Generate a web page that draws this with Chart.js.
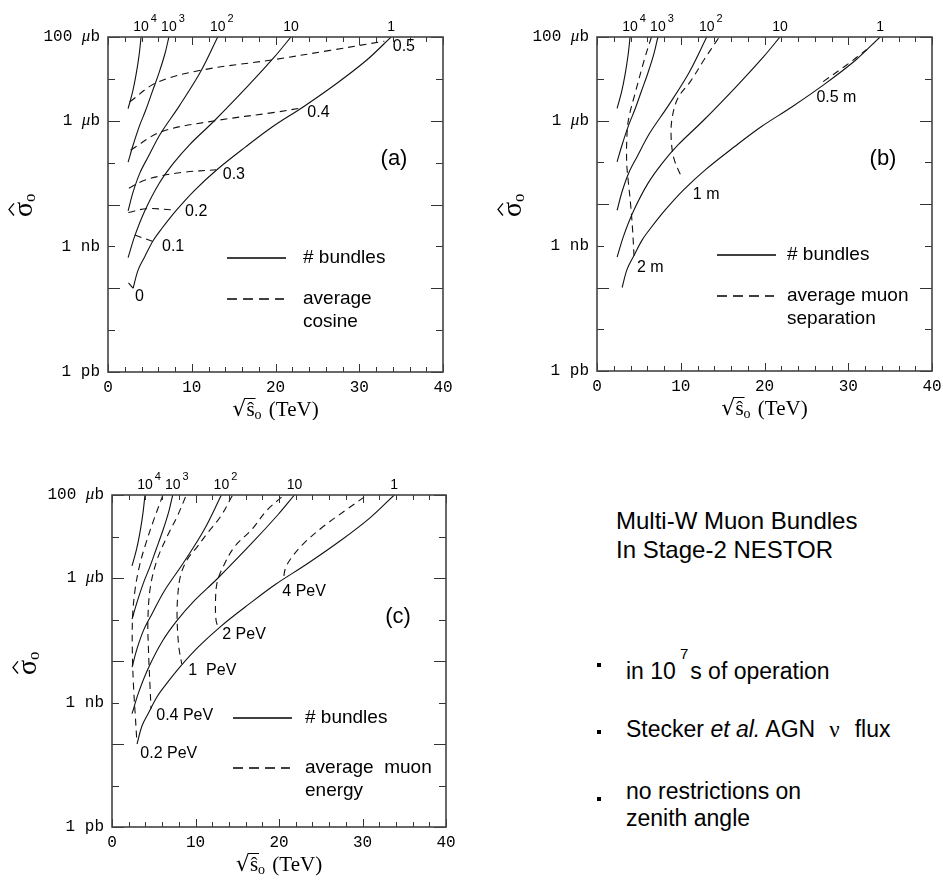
<!DOCTYPE html>
<html>
<head>
<meta charset="utf-8">
<script src="https://cdn.jsdelivr.net/npm/chart.js@4.4.1/dist/chart.umd.min.js"></script>
<style>
  body { margin: 0; background: #fff; width: 943px; height: 884px; position: relative; overflow: hidden;
         font-family: "Liberation Sans", Arial, sans-serif; color: #000; }
  canvas { position: absolute; }
  .note { position: absolute; white-space: nowrap; }
  .dot { position: absolute; width: 4px; height: 4px; background: #000; }
</style>
</head>
<body>
<canvas id="panelA" width="470" height="420" style="left:0;top:0"></canvas>
<canvas id="panelB" width="473" height="420" style="left:470px;top:0"></canvas>
<canvas id="panelC" width="470" height="444" style="left:0;top:440px"></canvas>

<div class="note" style="left:616px;top:506px;font-size:24px;line-height:29px">Multi-W Muon Bundles<br>In Stage-2 NESTOR</div>
<div class="dot" style="left:597px;top:663px"></div>
<div class="note" style="left:626px;top:658px;font-size:23px;line-height:27px">in 10<span style="position:relative;top:-20px;font-size:15px;margin:0 2px 0 4px">7</span>s of operation</div>
<div class="dot" style="left:597px;top:730px"></div>
<div class="note" style="left:626px;top:716px;font-size:23px;line-height:27px">Stecker <i>et al.</i> AGN<span style="font-family:'Liberation Serif',serif;margin:0 15px 0 14px">&nu;</span>flux</div>
<div class="dot" style="left:597px;top:797px"></div>
<div class="note" style="left:626px;top:778px;font-size:23px;line-height:27px">no restrictions on<br>zenith angle</div>

<script>
// x = sqrt(s) in TeV, y = log10(sigma / pb)
const energyTicks = [0, 10, 20, 30, 40];
const sigmaTicks = [1e8, 1e6, 1e3, 1];
const sigmaTickText = ['100 μb', '1 μb', '1 nb', '1 pb'];

// "# bundles" curves (same in all three panels)
const bundleTags = [['10', '4'], ['10', '3'], ['10', '2'], ['10', ''], ['1', '']];
const n1e4X = [2.4, 2.95, 3.35, 3.7, 3.95];
const n1e4Y = [6.29, 6.7, 7.1, 7.55, 8.0];
const n1e3X = [2.4, 3.0, 3.8, 4.5, 5.3, 6.1, 6.8, 7.27];
const n1e3Y = [5.01, 5.42, 5.9, 6.25, 6.7, 7.15, 7.6, 8.0];
const n1e2X = [2.4, 3.0, 3.8, 4.8, 6.3, 8.5, 11.0, 13.1];
const n1e2Y = [3.85, 4.3, 4.75, 5.14, 5.7, 6.35, 7.15, 8.0];
const n10X = [2.4, 3.2, 4.4, 6.1, 7.8, 9.7, 12.7, 16.8, 19.9, 21.85];
const n10Y = [2.73, 3.25, 3.85, 4.5, 4.98, 5.42, 6.0, 6.85, 7.53, 8.0];
const n1X = [3.0, 3.6, 4.4, 5.4, 6.4, 8.2, 10.4, 13.0, 16.4, 19.6, 23.3, 27.3, 30.9, 33.8];
const n1Y = [2.0, 2.44, 2.76, 3.14, 3.42, 3.87, 4.35, 4.83, 5.37, 5.85, 6.33, 6.89, 7.45, 8.0];

// (a) average cosine
const cosTags = ['0.5', '0.4', '0.3', '0.2', '0.1', '0'];
const cosTagX = [34.0, 23.8, 13.7, 9.2, 6.45, 3.22];
const cosTagY = [7.76, 6.19, 4.71, 3.82, 2.99, 1.79];
const cos05X = [2.6, 5.8, 11.2, 19.5, 26.5, 33.0];
const cos05Y = [6.45, 6.91, 7.21, 7.45, 7.68, 7.9];
const cos04X = [2.7, 6.4, 12.8, 19.9, 23.2];
const cos04Y = [5.3, 5.74, 6.0, 6.2, 6.31];
const cos03X = [2.5, 4.0, 6.0, 9.0, 12.9];
const cos03Y = [4.39, 4.55, 4.67, 4.77, 4.83];
const cos02X = [2.43, 4.6, 8.0];
const cos02Y = [3.81, 3.9, 3.87];
const cos01X = [3.2, 5.3];
const cos01Y = [3.27, 3.12];
const cos00X = [2.45, 3.0];
const cos00Y = [2.13, 2.0];

// (b) average muon separation
const sepTags = ['0.5 m', '1 m', '2 m'];
const sepTagX = [26.2, 11.44, 4.77];
const sepTagY = [6.54, 4.22, 2.47];
const sep05X = [27.0, 29.6, 32.2];
const sep05Y = [6.93, 7.3, 7.7];
const sep1X = [14.5, 12.8, 11.2, 9.7, 9.0, 8.85, 9.2, 10.2];
const sep1Y = [7.97, 7.46, 6.95, 6.55, 6.1, 5.6, 5.08, 4.6];
const sep2X = [6.5, 5.7, 4.55, 3.75, 3.55, 3.55, 3.72, 4.0, 4.25, 4.42];
const sep2Y = [8.0, 7.49, 6.65, 6.01, 5.5, 4.97, 4.57, 4.02, 3.38, 2.76];

// (c) average muon energy
const engTags = ['4 PeV', '2 PeV', '1  PeV', '0.4 PeV', '0.2 PeV'];
const engTagX = [20.4, 13.2, 9.14, 5.3, 3.39];
const engTagY = [5.67, 4.63, 3.78, 2.69, 1.78];
const e4X = [30.2, 28.1, 25.3, 23.0, 21.6, 20.8, 20.55];
const e4Y = [7.95, 7.65, 7.24, 6.84, 6.52, 6.25, 6.02];
const e2X = [20.3, 18.5, 16.7, 14.7, 13.33, 12.6, 12.4, 12.45, 12.7];
const e2Y = [7.95, 7.62, 7.16, 6.76, 6.28, 5.9, 5.48, 5.0, 4.8];
const e1X = [14.4, 13.0, 11.5, 10.2, 9.0, 8.2, 7.85, 7.8, 8.0, 8.35];
const e1Y = [7.98, 7.48, 7.1, 6.75, 6.44, 6.05, 5.5, 4.99, 4.35, 3.93];
const e04X = [8.8, 7.8, 6.6, 5.4, 4.6, 4.3, 4.38, 4.55, 4.68];
const e04Y = [7.95, 7.48, 7.0, 6.44, 5.79, 5.0, 4.2, 3.4, 2.85];
const e02X = [6.1, 5.0, 4.0, 3.3, 2.75, 2.45, 2.45, 2.6, 2.8, 2.98];
const e02Y = [8.0, 7.4, 6.8, 6.3, 5.7, 5.0, 4.1, 3.3, 2.65, 2.05];

const SANS = '"Liberation Sans", Arial, sans-serif';
const SERIF = '"Liberation Serif", "DejaVu Serif", serif';
const MONO = '"Liberation Mono", "DejaVu Sans Mono", monospace';

function pts(xs, ys) {
  return xs.map((x, i) => ({ x: x, y: Math.pow(10, ys[i]) }));
}

function bundleSets() {
  const xs = [n1e4X, n1e3X, n1e2X, n10X, n1X];
  const ys = [n1e4Y, n1e3Y, n1e2Y, n10Y, n1Y];
  return xs.map((x, i) => ({
    data: pts(x, ys[i]), showLine: true, borderColor: '#111', borderWidth: 1.1,
    pointRadius: 0, tension: 0.35, topTag: bundleTags[i]
  }));
}

function dashSet(xs, ys) {
  return { data: pts(xs, ys), showLine: true, borderColor: '#111', borderWidth: 1.1,
           borderDash: [7, 5], pointRadius: 0, tension: 0.35 };
}

// text made of runs with their own fonts
function drawRuns(ctx, runs, x, y, align) {
  let total = 0;
  runs.forEach(r => { ctx.font = r.font; r.w = ctx.measureText(r.t).width; total += r.w + (r.gap || 0); });
  let cx = align === 'right' ? x - total : align === 'center' ? x - total / 2 : x;
  ctx.textAlign = 'left';
  runs.forEach(r => {
    ctx.font = r.font;
    ctx.fillText(r.t, cx + (r.gap || 0), y + (r.dy || 0));
    cx += r.w + (r.gap || 0);
  });
}

const decorPlugin = {
  id: 'decor',
  afterDraw(chart, args, o) {
    const ctx = chart.ctx, a = chart.chartArea;
    const sx = chart.scales.x, sy = chart.scales.y;
    ctx.save();
    ctx.fillStyle = '#000';

    // inward ticks on all four sides
    ctx.strokeStyle = '#333';
    ctx.lineWidth = 1;
    ctx.beginPath();
    for (let v = 0; v <= 40; v += 2) {
      const px = Math.round(sx.getPixelForValue(v)) + 0.5;
      const len = v % 10 === 0 ? 8 : 5;
      ctx.moveTo(px, a.bottom); ctx.lineTo(px, a.bottom - len);
      ctx.moveTo(px, a.top); ctx.lineTo(px, a.top + len);
    }
    for (let e = 0; e <= 8; e++) {
      const py = Math.round(sy.getPixelForValue(Math.pow(10, e))) + 0.5;
      const len = e % 2 === 0 ? 12 : 7;
      ctx.moveTo(a.left, py); ctx.lineTo(a.left + len, py);
      ctx.moveTo(a.right, py); ctx.lineTo(a.right - len, py);
    }
    ctx.stroke();
    ctx.lineWidth = 1.6;
    ctx.strokeStyle = '#444';
    ctx.strokeRect(a.left, a.top, a.right - a.left, a.bottom - a.top);

    // tick labels
    ctx.textBaseline = 'middle';
    ctx.font = '16px ' + MONO;
    ctx.textAlign = 'center';
    energyTicks.forEach(v => ctx.fillText(String(v), sx.getPixelForValue(v), a.bottom + 16));
    sigmaTicks.forEach((v, i) => {
      const parts = sigmaTickText[i].split('μ');
      const runs = parts.length > 1
        ? [{ t: parts[0], font: '16px ' + MONO }, { t: 'μ', font: 'italic 17px ' + SERIF }, { t: parts[1], font: '16px ' + MONO }]
        : [{ t: parts[0], font: '16px ' + MONO }];
      drawRuns(ctx, runs, a.left - 8, sy.getPixelForValue(v), 'right');
    });

    // axis titles
    const tx = (a.left + a.right) / 2, ty = a.bottom + 38;
    ctx.font = '22px "DejaVu Sans", sans-serif';
    const wr = ctx.measureText('√').width;
    ctx.font = '21px ' + SERIF;
    const ws = ctx.measureText('s').width;
    const runs = [
      { t: '√', font: '22px "DejaVu Sans", sans-serif' },
      { t: 'ŝ', font: '21px ' + SERIF },
      { t: 'o', font: '14px ' + SERIF, dy: 5 },
      { t: ' (TeV)', font: '21px ' + SERIF, gap: 2 }
    ];
    ctx.font = '14px ' + SERIF; const wo = ctx.measureText('o').width;
    ctx.font = '21px ' + SERIF; const wt = ctx.measureText(' (TeV)').width;
    const total = wr + ws + wo + wt + 2;
    const x0 = tx - total / 2;
    drawRuns(ctx, runs, tx, ty, 'center');
    ctx.lineWidth = 1;
    ctx.strokeStyle = '#000';
    ctx.beginPath();
    ctx.moveTo(x0 + wr - 1, ty - 11.5); ctx.lineTo(x0 + wr + ws + 1, ty - 11.5);
    ctx.stroke();

    ctx.save();
    ctx.translate(a.left - 84, a.top + 168);
    ctx.rotate(-Math.PI / 2);
    ctx.textAlign = 'left';
    ctx.textBaseline = 'alphabetic';
    ctx.font = '28px ' + SERIF;
    const wsg = ctx.measureText('σ').width;
    ctx.fillText('σ', -12, 8);
    ctx.font = '17px ' + SERIF;
    ctx.fillText('o', -12 + wsg, 11);
    ctx.beginPath();
    ctx.lineWidth = 1.3;
    ctx.moveTo(-12 + wsg * 0.1, -10); ctx.lineTo(-12 + wsg * 0.5, -15); ctx.lineTo(-12 + wsg * 0.9, -10);
    ctx.stroke();
    ctx.restore();

    // bundle numbers above the curves: base centred on the curve end, exponent hanging right
    ctx.textBaseline = 'alphabetic';
    ctx.textAlign = 'center';
    chart.data.datasets.forEach(ds => {
      if (!ds.topTag) return;
      const last = ds.data[ds.data.length - 1];
      const px = sx.getPixelForValue(last.x);
      ctx.font = '14px ' + SANS;
      ctx.fillText(ds.topTag[0], px, a.top - 6);
      if (ds.topTag[1]) {
        const w = ctx.measureText(ds.topTag[0]).width;
        ctx.font = '11px ' + SANS;
        ctx.textAlign = 'left';
        ctx.fillText(ds.topTag[1], px + w / 2 + 2, a.top - 15);
        ctx.textAlign = 'center';
      }
    });

    // curve notes
    ctx.textBaseline = 'middle';
    ctx.font = '16px ' + SANS;
    ctx.textAlign = 'left';
    o.tags.forEach((t, i) => {
      ctx.fillText(t, sx.getPixelForValue(o.tagX[i]), sy.getPixelForValue(Math.pow(10, o.tagY[i])));
    });

    // panel letter
    ctx.font = '22px ' + SANS;
    ctx.textAlign = 'center';
    ctx.fillText(o.letter, a.left + 286, a.top + 122);

    // legend
    const L = o.legend;
    ctx.lineWidth = 1.6;
    ctx.strokeStyle = '#000';
    ctx.beginPath();
    ctx.moveTo(a.left + L.x0, a.top + L.y1); ctx.lineTo(a.left + L.x0 + 59, a.top + L.y1);
    ctx.stroke();
    ctx.setLineDash([10, 6]);
    ctx.lineWidth = 1.3;
    ctx.beginPath();
    ctx.moveTo(a.left + L.x0, a.top + L.y2); ctx.lineTo(a.left + L.x0 + 57, a.top + L.y2);
    ctx.stroke();
    ctx.setLineDash([]);
    ctx.font = '19px ' + SANS;
    ctx.textAlign = 'left';
    ctx.fillText('# bundles', a.left + L.tx, a.top + L.y1);
    ctx.fillText(L.l1, a.left + L.tx, a.top + L.y2);
    ctx.fillText(L.l2, a.left + L.tx, a.top + L.y2 + 23);
    ctx.restore();
  }
};

function makePanel(id, dashed, pad, decor) {
  return new Chart(document.getElementById(id), {
    type: 'scatter',
    data: { datasets: bundleSets().concat(dashed) },
    options: {
      responsive: false,
      animation: false,
      events: [],
      layout: { padding: pad },
      scales: {
        x: { type: 'linear', min: 0, max: 40, display: false },
        y: { type: 'logarithmic', min: 1, max: 1e8, display: false }
      },
      plugins: { legend: { display: false }, tooltip: { enabled: false }, decor: decor }
    },
    plugins: [decorPlugin]
  });
}

makePanel('panelA',
  [dashSet(cos05X, cos05Y), dashSet(cos04X, cos04Y), dashSet(cos03X, cos03Y),
   dashSet(cos02X, cos02Y), dashSet(cos01X, cos01Y), dashSet(cos00X, cos00Y)],
  { left: 108, top: 37, right: 27, bottom: 48 },
  { tags: cosTags, tagX: cosTagX, tagY: cosTagY, letter: '(a)',
    legend: { x0: 119, y1: 221, y2: 262, tx: 195, l1: 'average', l2: 'cosine' } });

makePanel('panelB',
  [dashSet(sep05X, sep05Y), dashSet(sep1X, sep1Y), dashSet(sep2X, sep2Y)],
  { left: 127, top: 37, right: 11, bottom: 49 },
  { tags: sepTags, tagX: sepTagX, tagY: sepTagY, letter: '(b)',
    legend: { x0: 120, y1: 218, y2: 259, tx: 190, l1: 'average muon', l2: 'separation' } });

makePanel('panelC',
  [dashSet(e4X, e4Y), dashSet(e2X, e2Y), dashSet(e1X, e1Y), dashSet(e04X, e04Y), dashSet(e02X, e02Y)],
  { left: 112, top: 55, right: 24, bottom: 57 },
  { tags: engTags, tagX: engTagX, tagY: engTagY, letter: '(c)',
    legend: { x0: 121, y1: 223, y2: 273, tx: 193, l1: 'average  muon', l2: 'energy' } });
</script>
</body>
</html>
